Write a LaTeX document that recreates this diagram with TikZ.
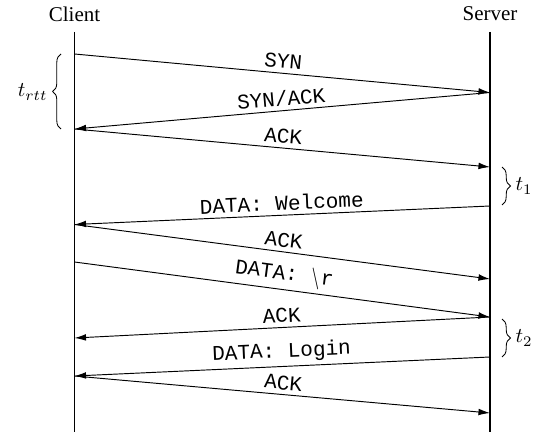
\documentclass[tikz,border=0pt]{standalone}
\usepackage{fontspec}
\setmainfont{Liberation Serif}
\setmonofont{Liberation Mono}
\usetikzlibrary{arrows.meta,decorations.pathreplacing}
\begin{document}
\begin{tikzpicture}[x=0.476pt,y=-0.476pt,
  msg/.style={-{Latex[length=5.5pt,width=3.2pt]},line width=0.45pt},
  lbl/.style={midway,above,sloped,font=\ttfamily,inner sep=2pt},
  life/.style={line width=0.5pt},
  brc/.style={decorate,decoration={brace,amplitude=4pt},line width=0.4pt}]
\useasboundingbox (0,0) rectangle (541,432);
% actors
\node (client) at (74.5,14) {Client};
\node (server) at (490,14) {Server};
\coordinate (ctop) at (74.5,32);
\coordinate (cbot) at (74.5,432);
\coordinate (stop) at (490,32);
\coordinate (sbot) at (490,432);
\draw[life] (ctop) -- (cbot);
\draw[life] (stop) -- (sbot);
% events
\coordinate (c1) at (74.5,54);
\coordinate (s1) at (490,92.5);
\coordinate (c2) at (74.5,129);
\coordinate (s2) at (490,167);
\coordinate (s3) at (490,206);
\coordinate (c3) at (74.5,224.5);
\coordinate (s4) at (490,279);
\coordinate (c4) at (74.5,262);
\coordinate (s5) at (490,317);
\coordinate (c5) at (74.5,338);
\coordinate (s6) at (490,357);
\coordinate (c6) at (74.5,376);
\coordinate (s7) at (490,413);
% messages
\draw[msg] (c1) -- node[lbl] {SYN} (s1);
\draw[msg] (s1) -- node[lbl] {SYN/ACK} (c2);
\draw[msg] (c2) -- node[lbl] {ACK} (s2);
\draw[msg] (s3) -- node[lbl] {DATA: Welcome} (c3);
\draw[msg] (c3) -- node[lbl] {ACK} (s4);
\draw[msg] (c4) -- node[lbl] {DATA: $\backslash$r} (s5);
\draw[msg] (s5) -- node[lbl] {ACK} (c5);
\draw[msg] (s6) -- node[lbl] {DATA: Login} (c6);
\draw[msg] (c6) -- node[lbl] {ACK} (s7);
% braces
\coordinate (b1a) at (61,129);
\coordinate (b1b) at (61,54);
\coordinate (b2a) at (502,167);
\coordinate (b2b) at (502,205);
\coordinate (b3a) at (502,319);
\coordinate (b3b) at (502,357);
\draw[brc] (b1a) -- (b1b);
\draw[brc] (b2a) -- (b2b);
\draw[brc] (b3a) -- (b3b);
\node[anchor=east,inner sep=1pt] (trtt) at (50,92) {$t_{rtt}$};
\node[anchor=west,inner sep=1pt] (t1) at (513,186) {$t_1$};
\node[anchor=west,inner sep=1pt] (t2) at (513,338) {$t_2$};
\end{tikzpicture}
\end{document}
